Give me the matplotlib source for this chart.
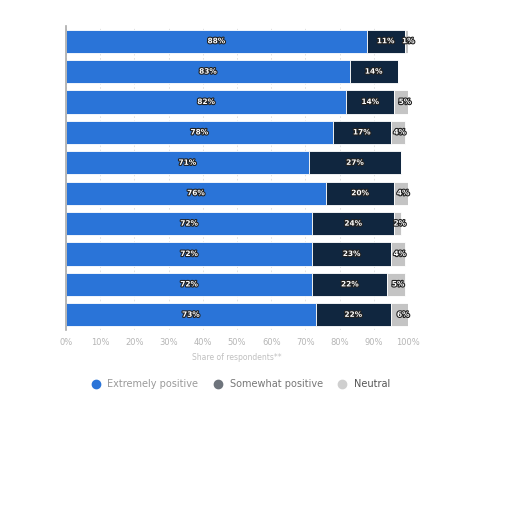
import matplotlib.pyplot as plt
import matplotlib.patheffects as pe
from matplotlib.lines import Line2D

# values per row, top to bottom (share of respondents, %)
extremely = [88, 83, 82, 78, 71, 76, 72, 72, 72, 73]
somewhat = [11, 14, 14, 17, 27, 20, 24, 23, 22, 22]
neutral = [1, 0, 5, 4, 0, 4, 2, 4, 5, 6]
ticks = [0, 10, 20, 30, 40, 50, 60, 70, 80, 90, 100]
series_names = ["Extremely positive", "Somewhat positive", "Neutral"]

c_blue = "#2a74d8"
c_navy = "#10263f"
c_grey = "#c4c4c4"

fig = plt.figure(figsize=(5.12, 5.12), dpi=100)
ax = fig.add_axes([66 / 512, 1 - 330 / 512, 342 / 512, 304 / 512])

n = len(extremely)
ys = list(range(n))
h = 0.76
ax.barh(ys, extremely, height=h, color=c_blue, edgecolor="white", linewidth=0.6)
ax.barh(ys, somewhat, left=extremely, height=h, color=c_navy, edgecolor="white", linewidth=0.6)
left3 = [a + b for a, b in zip(extremely, somewhat)]
ax.barh(ys, neutral, left=left3, height=h, color=c_grey, edgecolor="white", linewidth=0.6)

stroke = [pe.withStroke(linewidth=1.6, foreground="#222222")]
for y, a, b, c, l3 in zip(ys, extremely, somewhat, neutral, left3):
    ax.text(a / 2, y, f"{a}%", ha="center", va="center", color="white",
            fontsize=5.3, fontweight="bold", path_effects=stroke)
    ax.text(a + b / 2, y, f"{b}%", ha="center", va="center", color="white",
            fontsize=5.3, fontweight="bold", path_effects=stroke)
    if c > 0:
        ax.text(l3 + c / 2 + 0.6, y, f"{c}%", ha="center", va="center", color="white",
                fontsize=5.3, fontweight="bold", path_effects=stroke)

ax.set_ylim(n - 0.5, -0.5)
ax.set_xlim(0, 100)
ax.set_xticks(ticks)
ax.set_xticklabels([f"{t}%" for t in ticks], fontsize=6, color="#b5b5b5")
ax.set_yticks([])
ax.tick_params(axis="x", length=0, pad=6)
ax.grid(axis="x", color="#dddddd", linestyle=(0, (2, 3)), linewidth=0.6)
ax.set_axisbelow(True)
for s in ["top", "right", "bottom"]:
    ax.spines[s].set_visible(False)
ax.spines["left"].set_color("#aaaaaa")
ax.spines["left"].set_linewidth(1.2)
ax.set_xlabel("Share of respondents**", fontsize=5.5, color="#c0c0c0", labelpad=4)

handles = [
    Line2D([], [], marker="o", linestyle="", markersize=6, color=c_blue),
    Line2D([], [], marker="o", linestyle="", markersize=6, color="#6e747c"),
    Line2D([], [], marker="o", linestyle="", markersize=6, color="#cfcfcf"),
]
leg = fig.legend(handles, series_names, loc="center", bbox_to_anchor=(238 / 512, 1 - 384 / 512),
                 ncol=3, frameon=False, fontsize=7, handletextpad=0.2, columnspacing=1.0)
for t, col in zip(leg.get_texts(), ["#9a9a9a", "#777777", "#555555"]):
    t.set_color(col)

fig.savefig("out.png", dpi=100)
